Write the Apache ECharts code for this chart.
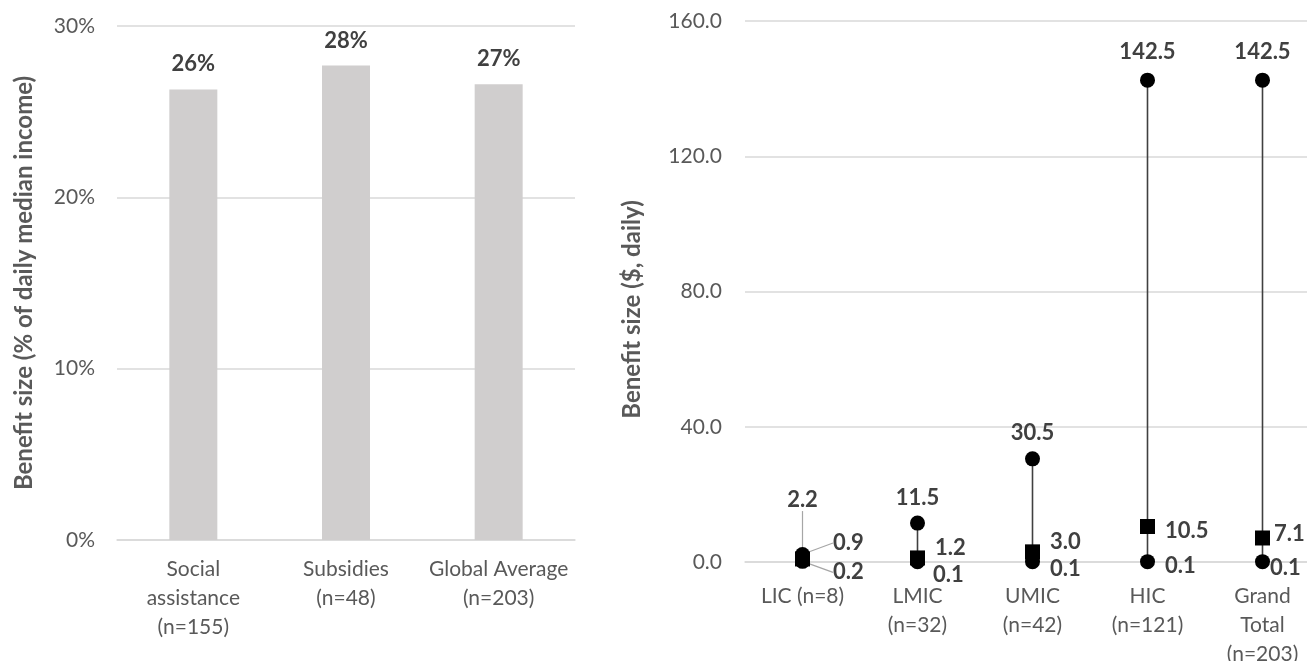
<!DOCTYPE html>
<html>
<head>
<meta charset="utf-8">
<script src="https://cdn.jsdelivr.net/npm/echarts@6/dist/echarts.min.js"></script>
<style>
html,body{margin:0;padding:0;background:#fff;}
#chart{width:1307px;height:661px;}
</style>
</head>
<body>
<div id="chart"></div>
<script>
// ---- Left chart data ----
const leftCategories = ['Social\nassistance\n(n=155)', 'Subsidies\n(n=48)', 'Global Average\n(n=203)'];
const leftValues = [26.3, 27.7, 26.6];
const leftTicks = [0, 10, 20, 30];

// ---- Right chart data ----
const rightCategories = ['LIC (n=8)', 'LMIC\n(n=32)', 'UMIC\n(n=42)', 'HIC\n(n=121)', 'Grand\nTotal\n(n=203)'];
const maxVals = [2.2, 11.5, 30.5, 142.5, 142.5];
const medianVals = [0.9, 1.2, 3.0, 10.5, 7.1];
const minVals = [0.2, 0.1, 0.1, 0.1, 0.1];
const rightTicks = [0, 40, 80, 120, 160];

// ---- label nudges (style only) ----
const maxNudge = [{dx: 0, dy: -26, line: true}, {dy: 3}, {dy: 3}, {}, {}];
const medNudge = [{dx: 13, dy: -16, line: true}, {dx: 0, dy: -10}, {dx: 0, dy: -10}, {dx: 0, dy: 4}, {dx: -6, dy: -4}];
const minNudge = [{dx: 13, dy: 11, line: true}, {dx: -2, dy: 13}, {dx: 0, dy: 7}, {dx: 0, dy: 4}, {dx: -10, dy: 6}];

const FONT = 'Lato';
const TICK_COLOR = '#595959';
const LABEL_COLOR = '#404040';
const GRID_COLOR = '#d9d9d9';

const chart = echarts.init(document.getElementById('chart'), null, {renderer: 'canvas'});

function scatterData(vals, nudges) {
  return vals.map((v, i) => ({
    value: [i, v],
    labelLine: {show: !!(nudges[i] && nudges[i].line), lineStyle: {color: '#a6a6a6', width: 1.2}}
  }));
}
function nudgeLayout(nudges) {
  return function (p) {
    const n = nudges[p.dataIndex] || {};
    return {dx: n.dx || 0, dy: n.dy || 0};
  };
}
const dataLabel = {
  show: true,
  fontFamily: FONT,
  fontWeight: 'bold',
  fontSize: 22,
  color: LABEL_COLOR,
  formatter: p => p.value[1].toFixed(1)
};

const option = {
  backgroundColor: '#ffffff',
  animation: false,
  textStyle: {fontFamily: FONT},
  grid: [
    {left: 117, right: 732, top: 26, bottom: 121, containLabel: false, outerBoundsMode: 'none'},
    {left: 745, right: -13, top: 21, bottom: 99, containLabel: false, outerBoundsMode: 'none'}
  ],
  xAxis: [
    {
      gridIndex: 0, type: 'category', data: leftCategories,
      axisLine: {show: true, lineStyle: {color: GRID_COLOR, width: 1.5}},
      axisTick: {show: false},
      axisLabel: {interval: 0, color: TICK_COLOR, fontSize: 21, fontFamily: FONT, lineHeight: 29, margin: 15}
    },
    {
      gridIndex: 1, type: 'category', data: rightCategories,
      axisLine: {show: true, lineStyle: {color: GRID_COLOR, width: 1.5}},
      axisTick: {show: false},
      axisLabel: {interval: 0, color: TICK_COLOR, fontSize: 21, fontFamily: FONT, lineHeight: 29, margin: 20}
    }
  ],
  yAxis: [
    {
      gridIndex: 0, type: 'value',
      min: leftTicks[0], max: leftTicks[leftTicks.length - 1], interval: leftTicks[1] - leftTicks[0],
      axisLine: {show: false}, axisTick: {show: false},
      splitLine: {lineStyle: {color: GRID_COLOR, width: 1.5}},
      axisLabel: {color: TICK_COLOR, fontSize: 21, fontFamily: FONT, margin: 22, formatter: v => v + '%'},
      name: 'Benefit size (% of daily median income)',
      nameLocation: 'middle', nameGap: 81, nameRotate: 90,
      nameTextStyle: {color: TICK_COLOR, fontSize: 24, fontWeight: 'bold', fontFamily: FONT}
    },
    {
      gridIndex: 1, type: 'value',
      min: rightTicks[0], max: rightTicks[rightTicks.length - 1], interval: rightTicks[1] - rightTicks[0],
      axisLine: {show: false}, axisTick: {show: false},
      splitLine: {lineStyle: {color: GRID_COLOR, width: 1.5}},
      axisLabel: {color: TICK_COLOR, fontSize: 21, fontFamily: FONT, margin: 23, formatter: v => v.toFixed(1)},
      name: 'Benefit size ($, daily)',
      nameLocation: 'middle', nameGap: 101, nameRotate: 90,
      nameTextStyle: {color: TICK_COLOR, fontSize: 24, fontWeight: 'bold', fontFamily: FONT, padding: [0, 36, 0, 0]}
    }
  ],
  series: [
    {
      type: 'bar', xAxisIndex: 0, yAxisIndex: 0,
      data: leftValues, barWidth: 48,
      itemStyle: {color: '#d0cece'},
      label: {
        show: true, position: 'top', distance: 14,
        fontFamily: FONT, fontWeight: 'bold', fontSize: 22, color: LABEL_COLOR,
        formatter: p => Math.round(p.value) + '%'
      }
    },
    {
      type: 'custom', xAxisIndex: 1, yAxisIndex: 1,
      data: rightCategories.map((c, i) => [i, minVals[i], maxVals[i]]),
      encode: {x: 0, y: [1, 2]},
      renderItem: function (params, api) {
        const lo = api.coord([api.value(0), api.value(1)]);
        const hi = api.coord([api.value(0), api.value(2)]);
        return {type: 'line', shape: {x1: lo[0], y1: lo[1], x2: hi[0], y2: hi[1]},
          style: {stroke: '#404040', lineWidth: 1.6}};
      },
      z: 1
    },
    {
      name: 'Max', type: 'scatter', xAxisIndex: 1, yAxisIndex: 1,
      symbol: 'circle', symbolSize: 15, itemStyle: {color: '#000000', opacity: 1},
      data: scatterData(maxVals, maxNudge),
      label: Object.assign({position: 'top', distance: 10}, dataLabel),
      labelLayout: nudgeLayout(maxNudge), z: 3
    },
    {
      name: 'Median', type: 'scatter', xAxisIndex: 1, yAxisIndex: 1,
      symbol: 'rect', symbolSize: 15, itemStyle: {color: '#000000', opacity: 1},
      data: scatterData(medianVals, medNudge),
      label: Object.assign({position: 'right', distance: 10}, dataLabel),
      labelLayout: nudgeLayout(medNudge), z: 3
    },
    {
      name: 'Min', type: 'scatter', xAxisIndex: 1, yAxisIndex: 1,
      symbol: 'circle', symbolSize: 15, itemStyle: {color: '#000000', opacity: 1},
      data: scatterData(minVals, minNudge),
      label: Object.assign({position: 'right', distance: 10}, dataLabel),
      labelLayout: nudgeLayout(minNudge), z: 3
    }
  ]
};
chart.setOption(option);
</script>
</body>
</html>
